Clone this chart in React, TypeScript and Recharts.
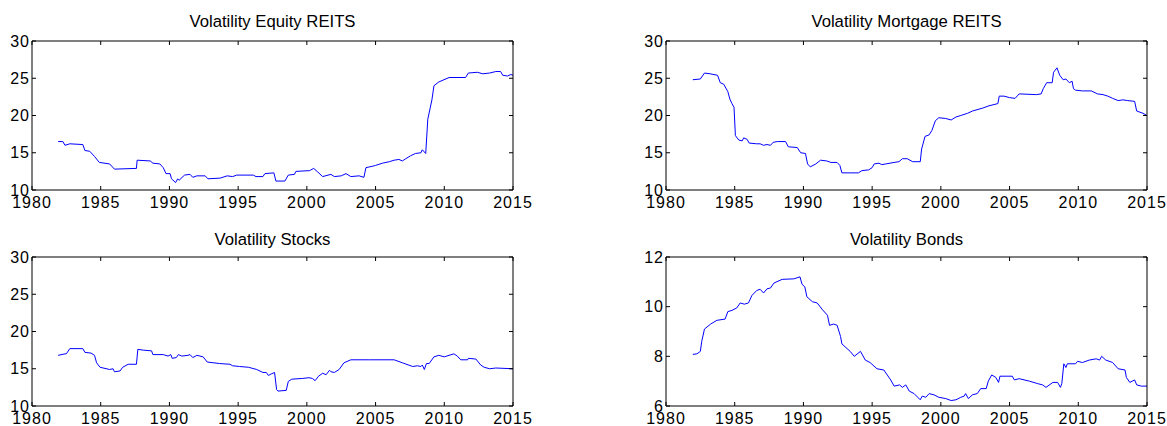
import { LineChart, Line, XAxis, YAxis } from 'recharts';

const yearTicks = [1980, 1985, 1990, 1995, 2000, 2005, 2010, 2015];
const reitTicks = [10, 15, 20, 25, 30];
const bondTicks = [6, 8, 10, 12];

const equityYears = [
  1981.9, 1982.25, 1982.4, 1982.75, 1983.7, 1983.85, 1984.2, 1984.55, 1984.9, 1985.65,
  1986.0, 1987.6, 1987.65, 1988.6, 1988.8, 1989.3, 1989.55, 1989.75, 1990.05, 1990.15,
  1990.45, 1990.6, 1990.7, 1991.1, 1991.5, 1991.7, 1992.0, 1992.6, 1992.8, 1993.7,
  1994.2, 1994.6, 1994.9, 1996.1, 1996.3, 1996.8, 1996.95, 1997.6, 1997.75, 1998.4,
  1998.65, 1999.1, 1999.2, 2000.2, 2000.5, 2000.8, 2001.15, 2001.75, 2002.0, 2002.5,
  2002.85, 2003.2, 2003.8, 2004.15, 2004.3, 2004.8, 2005.0, 2005.5, 2006.0, 2006.35,
  2006.7, 2006.95, 2007.2, 2007.55, 2007.9, 2008.3, 2008.4, 2008.65, 2008.8, 2009.1,
  2009.25, 2009.6, 2010.35, 2011.55, 2011.75, 2012.4, 2012.8, 2013.3, 2013.75, 2014.1,
  2014.25, 2014.6, 2014.85, 2015.0,
];
const equityVol = [
  16.5, 16.5, 16.0, 16.2, 16.1, 15.3, 15.2, 14.5, 13.7, 13.5,
  12.8, 12.9, 14.0, 13.9, 13.6, 13.5, 13.0, 12.2, 12.2, 11.5,
  11.0, 11.5, 11.3, 12.0, 12.1, 11.7, 11.9, 11.9, 11.5, 11.6,
  11.9, 11.8, 12.0, 12.0, 11.8, 11.8, 12.2, 12.3, 11.2, 11.2,
  12.0, 12.1, 12.5, 12.6, 12.9, 12.4, 11.8, 12.1, 11.8, 11.9,
  12.2, 11.8, 11.9, 11.7, 13.0, 13.2, 13.3, 13.6, 13.8, 14.0,
  14.1, 13.9, 14.2, 14.6, 14.9, 15.0, 15.4, 14.9, 19.5, 22.1,
  24.0, 24.5, 25.1, 25.1, 25.7, 25.8, 25.6, 25.7, 25.9, 25.9,
  25.4, 25.3, 25.5, 25.4,
];

const mortgageYears = [
  1981.95, 1982.5, 1982.8, 1983.2, 1983.75, 1983.95, 1984.2, 1984.5, 1984.65, 1984.8,
  1984.95, 1985.05, 1985.3, 1985.55, 1985.65, 1985.9, 1986.05, 1986.6, 1986.85, 1987.1,
  1987.35, 1987.6, 1987.8, 1988.1, 1988.7, 1988.9, 1989.55, 1989.8, 1990.15, 1990.3,
  1990.5, 1990.9, 1991.25, 1991.7, 1992.0, 1992.45, 1992.65, 1992.8, 1993.4, 1994.0,
  1994.25, 1994.75, 1995.0, 1995.15, 1995.5, 1995.7, 1996.6, 1996.95, 1997.2, 1997.55,
  1997.95, 1998.5, 1998.6, 1998.85, 1999.15, 1999.35, 1999.6, 1999.85, 2000.35, 2000.75,
  2001.1, 2001.45, 2001.95, 2002.3, 2003.05, 2003.5, 2004.15, 2004.25, 2004.6, 2005.0,
  2005.4, 2005.7, 2006.95, 2007.3, 2007.45, 2007.7, 2008.1, 2008.2, 2008.45, 2008.65,
  2008.9, 2009.1, 2009.35, 2009.55, 2009.65, 2009.8, 2010.3, 2010.95, 2011.4, 2011.8,
  2012.15, 2012.5, 2012.9, 2013.25, 2013.6, 2014.1, 2014.25, 2014.7, 2015.0,
];
const mortgageVol = [
  24.8, 24.9, 25.7, 25.6, 25.4, 24.4, 24.2, 23.2, 22.2, 21.6,
  21.1, 17.3, 16.7, 16.6, 17.0, 16.8, 16.3, 16.2, 16.2, 16.0,
  16.1, 16.0, 16.4, 16.5, 16.5, 15.8, 15.7, 15.0, 14.9, 13.5,
  13.1, 13.5, 14.0, 13.9, 13.7, 13.7, 13.3, 12.3, 12.3, 12.3,
  12.6, 12.7, 13.0, 13.5, 13.6, 13.4, 13.7, 13.8, 14.2, 14.2,
  13.8, 13.8, 15.5, 17.2, 17.4, 18.0, 19.3, 19.7, 19.6, 19.4,
  19.8, 20.0, 20.3, 20.6, 21.0, 21.3, 21.6, 22.6, 22.6, 22.4,
  22.3, 22.9, 22.8, 22.9, 23.6, 24.4, 24.4, 25.8, 26.4, 25.4,
  24.8, 24.9, 24.4, 24.6, 23.6, 23.4, 23.3, 23.3, 22.9, 22.8,
  22.6, 22.3, 22.0, 22.1, 22.0, 21.9, 20.6, 20.3, 20.0,
];

const stockYears = [
  1981.9, 1982.4, 1982.5, 1982.75, 1983.7, 1983.85, 1984.3, 1984.55, 1984.7, 1984.95,
  1985.65, 1985.9, 1986.0, 1986.4, 1986.6, 1987.0, 1987.6, 1987.7, 1988.1, 1988.7,
  1988.8, 1989.55, 1989.9, 1990.1, 1990.2, 1990.5, 1990.65, 1990.9, 1991.35, 1991.5,
  1991.7, 1992.0, 1992.45, 1992.75, 1993.65, 1994.4, 1994.6, 1995.1, 1995.75, 1996.35,
  1996.8, 1997.05, 1997.2, 1997.4, 1997.65, 1997.8, 1997.9, 1998.5, 1998.65, 1998.9,
  1999.7, 2000.15, 2000.4, 2000.6, 2000.85, 2001.15, 2001.4, 2001.65, 2001.75, 2002.0,
  2002.35, 2002.7, 2003.2, 2004.55, 2006.35, 2006.95, 2007.7, 2008.05, 2008.3, 2008.4,
  2008.55, 2008.7, 2008.9, 2009.25, 2009.6, 2010.0, 2010.35, 2010.7, 2010.95, 2011.2,
  2011.7, 2011.75, 2012.3, 2012.65, 2012.9, 2013.3, 2013.75, 2015.0,
];
const stockVol = [
  16.8, 17.0, 17.0, 17.7, 17.7, 17.2, 17.1, 16.8, 15.8, 15.2,
  14.9, 15.0, 14.6, 14.7, 15.2, 15.6, 15.6, 17.6, 17.5, 17.4,
  16.9, 16.9, 16.7, 16.9, 16.4, 16.5, 16.9, 16.7, 16.8, 16.9,
  16.5, 16.8, 16.6, 15.9, 15.7, 15.6, 15.4, 15.3, 15.2, 14.9,
  14.5, 14.5, 14.1, 14.3, 14.5, 12.2, 12.0, 12.1, 13.3, 13.6,
  13.7, 13.8, 13.7, 13.4, 14.0, 14.4, 14.2, 14.8, 14.6, 14.5,
  14.9, 15.8, 16.2, 16.2, 16.2, 15.8, 15.3, 15.4, 15.3, 15.5,
  14.9, 15.7, 15.7, 16.6, 16.8, 16.6, 16.8, 17.0, 16.7, 16.2,
  16.2, 16.4, 16.3, 15.5, 15.2, 15.0, 15.1, 15.0,
];

const bondYears = [
  1981.95, 1982.25, 1982.5, 1982.6, 1982.8, 1983.25, 1983.7, 1984.3, 1984.5, 1984.8,
  1985.15, 1985.4, 1985.7, 1986.0, 1986.25, 1986.6, 1986.85, 1987.1, 1987.35, 1987.6,
  1987.85, 1988.45, 1989.3, 1989.75, 1989.9, 1990.1, 1990.25, 1990.65, 1991.0, 1991.35,
  1991.75, 1991.9, 1992.2, 1992.45, 1992.7, 1992.8, 1993.4, 1993.7, 1994.15, 1994.5,
  1994.85, 1995.35, 1995.85, 1996.1, 1996.35, 1996.6, 1997.0, 1997.2, 1997.45, 1997.7,
  1998.05, 1998.5, 1998.65, 1998.9, 1999.15, 1999.5, 1999.85, 2000.35, 2000.75, 2001.1,
  2001.45, 2001.7, 2001.8, 2002.0, 2002.3, 2002.65, 2002.9, 2003.3, 2003.45, 2003.7,
  2004.0, 2004.2, 2004.3, 2004.75, 2005.2, 2005.35, 2005.7, 2006.45, 2007.05, 2007.4,
  2007.65, 2008.15, 2008.5, 2008.7, 2008.8, 2008.95, 2009.1, 2009.2, 2009.8, 2009.95,
  2010.3, 2010.8, 2011.3, 2011.55, 2011.7, 2012.0, 2012.5, 2012.9, 2013.4, 2013.5,
  2013.75, 2014.1, 2014.25, 2014.6, 2015.0,
];
const bondVol = [
  8.08, 8.1, 8.2, 8.6, 9.1, 9.3, 9.45, 9.5, 9.8, 9.85,
  9.95, 10.15, 10.1, 10.15, 10.45, 10.65, 10.7, 10.55, 10.72, 10.75,
  10.95, 11.1, 11.12, 11.2, 10.9, 10.8, 10.4, 10.2, 10.15, 9.9,
  9.65, 9.25, 9.3, 9.25, 8.8, 8.5, 8.2, 8.0, 8.2, 7.85,
  7.75, 7.5, 7.45, 7.25, 7.05, 6.8, 6.85, 6.75, 6.85, 6.6,
  6.5, 6.25, 6.4, 6.35, 6.5, 6.45, 6.35, 6.3, 6.22, 6.25,
  6.35, 6.4, 6.5, 6.3, 6.45, 6.5, 6.7, 6.7, 7.0, 7.25,
  7.15, 6.95, 7.2, 7.2, 7.2, 7.05, 7.1, 7.0, 6.9, 6.85,
  6.75, 6.95, 6.95, 6.75, 6.9, 7.7, 7.55, 7.7, 7.7, 7.8,
  7.75, 7.85, 7.9, 7.85, 8.0, 7.85, 7.75, 7.5, 7.45, 7.15,
  6.95, 7.05, 6.85, 6.8, 6.8,
];

const FONT = '"Liberation Sans", Arial, Helvetica, sans-serif';
const CHART_W = 533;
const CHART_H = 210;

function zip(years: number[], vals: number[]) {
  const n = Math.min(years.length, vals.length);
  return Array.from({ length: n }, (_, i) => ({ year: years[i], v: vals[i] }));
}

const noLabel = () => <g />;

interface PanelProps {
  title: string;
  titleTop: number;
  left: number;
  top: number;
  years: number[];
  values: number[];
  yTicks: number[];
}

function Panel({ title, titleTop, left, top, years, values, yTicks }: PanelProps) {
  const data = zip(years, values);
  const domain = [yTicks[0], yTicks[yTicks.length - 1]];
  const tickStyle = { fontSize: 16, fill: '#000', fontFamily: FONT, letterSpacing: 1 };

  return (
    <div style={{ position: 'absolute', left, top, width: CHART_W, height: CHART_H }}>
      <div
        style={{
          position: 'absolute',
          left: 32,
          width: 481,
          top: titleTop,
          textAlign: 'center',
          fontFamily: FONT,
          fontSize: 16.7,
          color: '#000',
          lineHeight: '20px',
          whiteSpace: 'nowrap',
        }}
      >
        {title}
      </div>
      <LineChart
        width={CHART_W}
        height={CHART_H}
        data={data}
        margin={{ top: 40, right: 19, left: 0, bottom: 0 }}
      >
        <XAxis
          xAxisId="bottom"
          dataKey="year"
          type="number"
          domain={[1980, 2015]}
          ticks={yearTicks}
          allowDataOverflow
          height={20}
          stroke="#000"
          tickSize={-4}
          tickMargin={11}
          tick={tickStyle}
        />
        <XAxis
          xAxisId="top"
          orientation="top"
          dataKey="year"
          type="number"
          domain={[1980, 2015]}
          ticks={yearTicks}
          allowDataOverflow
          height={1}
          stroke="#000"
          tickSize={-4}
          tick={noLabel}
        />
        <YAxis
          yAxisId="left"
          type="number"
          domain={domain}
          ticks={yTicks}
          allowDataOverflow
          width={32}
          stroke="#000"
          tickSize={-4}
          tickMargin={6}
          tick={tickStyle}
        />
        <YAxis
          yAxisId="right"
          orientation="right"
          type="number"
          domain={domain}
          ticks={yTicks}
          allowDataOverflow
          width={1}
          stroke="#000"
          tickSize={-4}
          tick={noLabel}
        />
        <Line
          xAxisId="bottom"
          yAxisId="left"
          type="linear"
          dataKey="v"
          stroke="#0000ff"
          strokeWidth={1}
          dot={false}
          isAnimationActive={false}
        />
      </LineChart>
    </div>
  );
}

export default function App() {
  return (
    <div
      style={{
        position: 'absolute',
        left: 0,
        top: 0,
        width: 1167,
        height: 426,
        overflow: 'hidden',
        background: '#fff',
      }}
    >
      <Panel title="Volatility Equity REITS" titleTop={12} left={0} top={0} years={equityYears} values={equityVol} yTicks={reitTicks} />
      <Panel title="Volatility Mortgage REITS" titleTop={12} left={634} top={0} years={mortgageYears} values={mortgageVol} yTicks={reitTicks} />
      <Panel title="Volatility Stocks" titleTop={14} left={0} top={216} years={stockYears} values={stockVol} yTicks={reitTicks} />
      <Panel title="Volatility Bonds" titleTop={14} left={634} top={216} years={bondYears} values={bondVol} yTicks={bondTicks} />
    </div>
  );
}
